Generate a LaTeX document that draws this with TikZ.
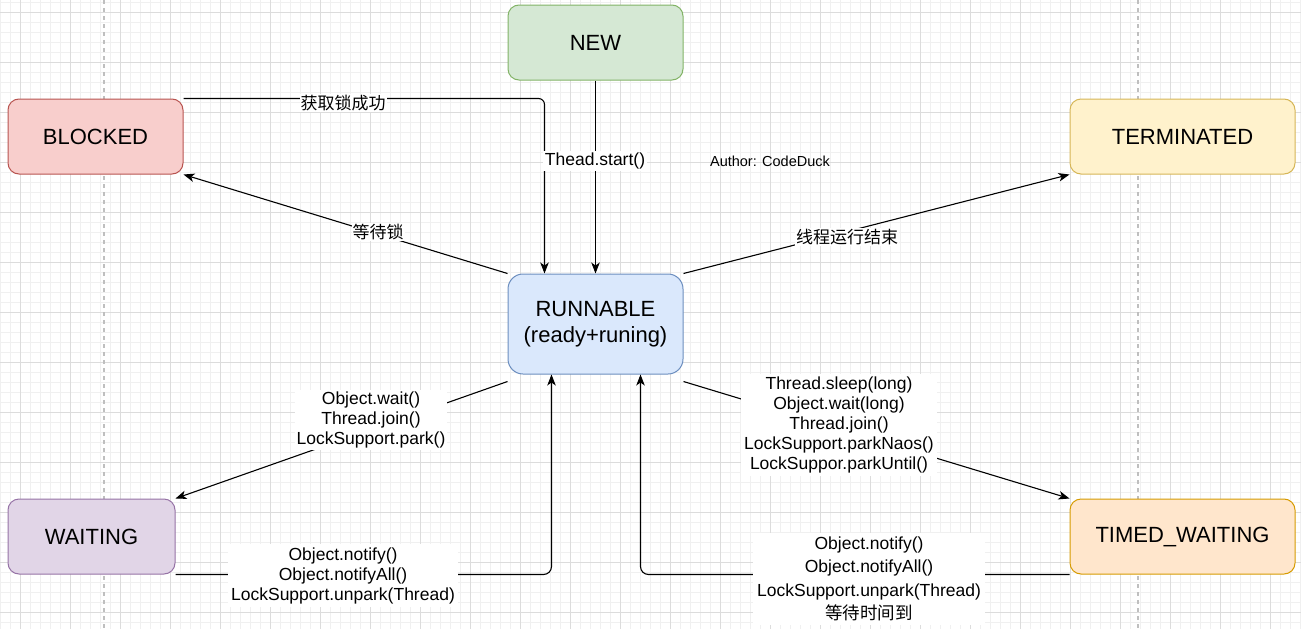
\documentclass[tikz,border=0pt]{standalone}
\usepackage{fontspec}
\setmainfont{Liberation Sans}
\newfontfamily\cjk{Noto Sans CJK SC}
\usetikzlibrary{arrows.meta}
\definecolor{gminor}{HTML}{F0F0F0}
\definecolor{gmajor}{HTML}{DCDCDC}
\definecolor{newfill}{HTML}{D5E8D4}\definecolor{newdraw}{HTML}{82B366}
\definecolor{blkfill}{HTML}{F8CECC}\definecolor{blkdraw}{HTML}{B85450}
\definecolor{trmfill}{HTML}{FFF2CC}\definecolor{trmdraw}{HTML}{D6B656}
\definecolor{runfill}{HTML}{DAE8FC}\definecolor{rundraw}{HTML}{6C8EBF}
\definecolor{waifill}{HTML}{E1D5E7}\definecolor{waidraw}{HTML}{9673A6}
\definecolor{timfill}{HTML}{FFE6CC}\definecolor{timdraw}{HTML}{D79B00}
\begin{document}
\begin{tikzpicture}[x=1pt,y=-1pt,
  state/.style={rounded corners=11pt, line width=1pt, minimum height=75pt, inner sep=0pt,
    align=center, font=\fontsize{22}{26}\selectfont},
  arr/.style={line width=1.1pt, -{Stealth[length=11pt,width=8.5pt,inset=3pt]}},
  lbl/.style={fill=white, inner sep=2pt, align=center, font=\fontsize{17.5}{20}\selectfont},
  zh/.style={fill=white, inner sep=1pt, font=\cjk\fontsize{17}{20}\selectfont}]
\fill[white] (0,0) rectangle (1301,629);
\useasboundingbox (0,0) rectangle (1301,629);
% grid
\foreach \x in {0,10,...,1300} \draw[gminor, line width=0.8pt] (\x,0) -- (\x,629);
\foreach \y in {2,12,...,622} \draw[gminor, line width=0.8pt] (0,\y) -- (1301,\y);
\foreach \x in {20,70,...,1270} \draw[gmajor, line width=0.9pt] (\x,0) -- (\x,629);
\foreach \y in {12,62,...,612} \draw[gmajor, line width=0.9pt] (0,\y) -- (1301,\y);
\draw[gray!50, line width=1.2pt, dash pattern=on 4pt off 4pt] (104,0) -- (104,629);
\draw[gray!50, line width=1.2pt, dash pattern=on 4pt off 4pt] (1138,0) -- (1138,629);
% states
\node[state, fill=newfill, draw=newdraw, minimum width=175pt] (new) at (595.5,42.5) {NEW};
\node[state, fill=blkfill, draw=blkdraw, minimum width=175pt] (blocked) at (95.5,136.5) {BLOCKED};
\node[state, fill=trmfill, draw=trmdraw, minimum width=225pt] (term) at (1182.5,136.5) {TERMINATED};
\node[state, fill=runfill, draw=rundraw, minimum width=175pt, minimum height=100pt, rounded corners=15pt] (run) at (595.5,324) {RUNNABLE\\(ready+runing)};
\node[state, fill=waifill, draw=waidraw, minimum width=167pt] (wait) at (91.5,536.5) {WAITING};
\node[state, fill=timfill, draw=timdraw, minimum width=225pt] (timed) at (1182.5,536.5) {TIMED\_WAITING};
% helper coordinates
\coordinate (rA) at ([xshift=37pt]run.north west);
\coordinate (rL) at ([yshift=-7pt]run.south west);
\coordinate (rR) at ([yshift=-7pt]run.south east);
\coordinate (rB1) at ([xshift=44pt]run.south west);
\coordinate (rB2) at ([xshift=-43pt]run.south east);
% edges
\draw[arr, rounded corners=6pt] (blocked.north east) -| (rA);
\draw[arr] (new.south) -- (run.north);
\draw[arr] (run.north west) -- (blocked.south east);
\draw[arr] (run.north east) -- (term.south west);
\draw[arr] (rL) -- (wait.north east);
\draw[arr] (rR) -- (timed.north west);
\draw[arr, rounded corners=8pt] (wait.south east) -| (rB1);
\draw[arr, rounded corners=8pt] (timed.south west) -| (rB2);
% labels
\node[zh] (l1) at (343,103) {获取锁成功};
\node[lbl] (l2) at (595,161) {Thead.start()};
\node[font=\fontsize{14.5}{17}\selectfont] (author) at (770,161) {Author: CodeDuck};
\node[zh] (l3) at (378,232) {等待锁};
\node[zh] (l4) at (847,237) {线程运行结束};
\node[lbl] (l5) at (371,420) {Object.wait()\\Thread.join()\\LockSupport.park()};
\node[lbl, inner sep=3pt] (l6) at (343,575.5) {Object.notify()\\Object.notifyAll()\\LockSupport.unpark(Thread)};
\node[lbl, inner sep=3pt] (l7) at (839,425) {Thread.sleep(long)\\Object.wait(long)\\Thread.join()\\LockSupport.parkNaos()\\LockSuppor.parkUntil()};
\node[lbl, inner sep=4pt, font=\fontsize{17.5}{23.5}\selectfont] (l8) at (869,579) {Object.notify()\\Object.notifyAll()\\LockSupport.unpark(Thread)\\{\cjk 等待时间到}};
\end{tikzpicture}
\end{document}
